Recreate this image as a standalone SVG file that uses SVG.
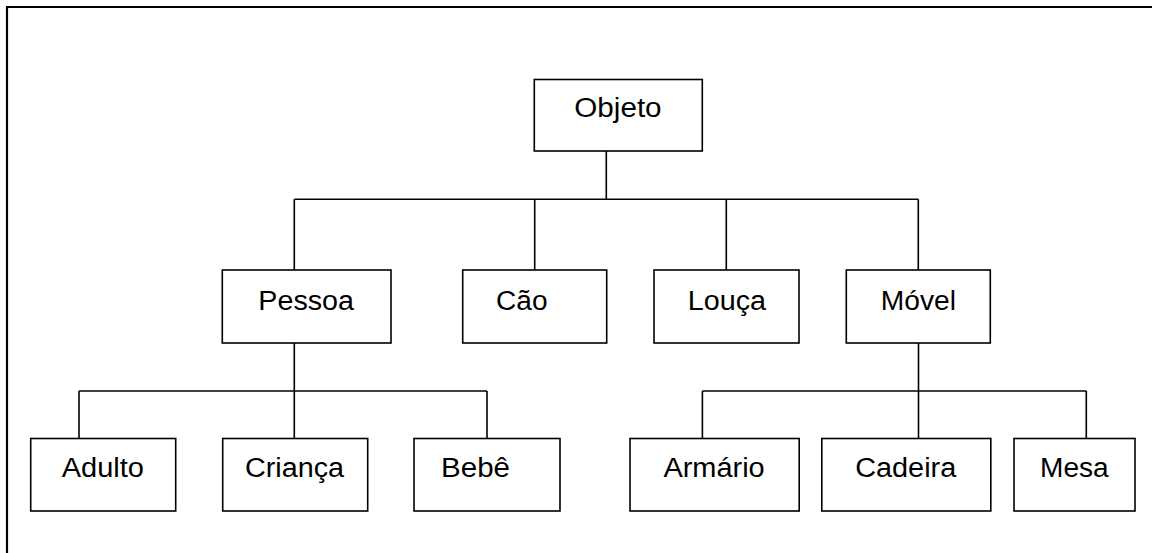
<svg xmlns="http://www.w3.org/2000/svg" width="1152" height="553" viewBox="0 0 1152 553">
  <style>
    .box { fill: #ffffff; stroke: #000000; stroke-width: 1.6; }
    .link { fill: none; stroke: #000000; stroke-width: 1.6; }
    .frame { fill: none; stroke: #000000; stroke-width: 2.2; }
    .label { font-family: "Liberation Sans", Arial, sans-serif; font-size: 27px; fill: #000000; }
  </style>
  <rect width="1152" height="553" fill="#ffffff"/>

  <!-- page border (top and left edges) -->
  <path class="frame" d="M7,553 V7 H1152"/>

  <!-- connectors -->
  <g id="connectors">
    <path class="link" d="M606.3,151 V199.3 M294.3,199.3 H918.3 M294.3,199.3 V270 M534.7,199.3 V270 M726.3,199.3 V270 M918.3,199.3 V270"/>
    <path class="link" d="M294.3,343 V391 M79,391 H487 M79,391 V438.5 M294.3,391 V438.5 M487,391 V438.5"/>
    <path class="link" d="M918.5,343 V391 M702.4,391 H1086.3 M702.4,391 V438.5 M918.5,391 V438.5 M1086.3,391 V438.5"/>
  </g>

  <!-- root -->
  <g id="objeto">
    <rect class="box" x="534.3" y="79.5" width="168" height="71.5"/>
    <text class="label" x="574.3" y="117" textLength="87.3" lengthAdjust="spacingAndGlyphs">Objeto</text>
  </g>

  <!-- second level -->
  <g id="pessoa">
    <rect class="box" x="222.3" y="270" width="168.7" height="73"/>
    <text class="label" x="258.3" y="309.5" textLength="95.7" lengthAdjust="spacingAndGlyphs">Pessoa</text>
  </g>
  <g id="cao">
    <rect class="box" x="462.7" y="270" width="144" height="73"/>
    <text class="label" x="496" y="309.5" textLength="51.5" lengthAdjust="spacingAndGlyphs">Cão</text>
  </g>
  <g id="louca">
    <rect class="box" x="654" y="270" width="145" height="73"/>
    <text class="label" x="687.7" y="309.5" textLength="78.3" lengthAdjust="spacingAndGlyphs">Louça</text>
  </g>
  <g id="movel">
    <rect class="box" x="846.3" y="270" width="144" height="73"/>
    <text class="label" x="880.7" y="309.5" textLength="75.3" lengthAdjust="spacingAndGlyphs">Móvel</text>
  </g>

  <!-- third level: Pessoa -->
  <g id="adulto">
    <rect class="box" x="30.7" y="438.5" width="145" height="72.5"/>
    <text class="label" x="61.7" y="476.5" textLength="82.3" lengthAdjust="spacingAndGlyphs">Adulto</text>
  </g>
  <g id="crianca">
    <rect class="box" x="222.7" y="438.5" width="145" height="72.5"/>
    <text class="label" x="245" y="476.5" textLength="99" lengthAdjust="spacingAndGlyphs">Criança</text>
  </g>
  <g id="bebe">
    <rect class="box" x="414" y="438.5" width="146" height="72.5"/>
    <text class="label" x="441" y="476.5" textLength="69" lengthAdjust="spacingAndGlyphs">Bebê</text>
  </g>

  <!-- third level: Móvel -->
  <g id="armario">
    <rect class="box" x="630" y="438.5" width="169.2" height="72.5"/>
    <text class="label" x="663.4" y="476.5" textLength="101.3" lengthAdjust="spacingAndGlyphs">Armário</text>
  </g>
  <g id="cadeira">
    <rect class="box" x="821.8" y="438.5" width="169" height="72.5"/>
    <text class="label" x="855.2" y="476.5" textLength="101" lengthAdjust="spacingAndGlyphs">Cadeira</text>
  </g>
  <g id="mesa">
    <rect class="box" x="1014" y="438.5" width="121" height="72.5"/>
    <text class="label" x="1040" y="476.5" textLength="68.7" lengthAdjust="spacingAndGlyphs">Mesa</text>
  </g>
</svg>
